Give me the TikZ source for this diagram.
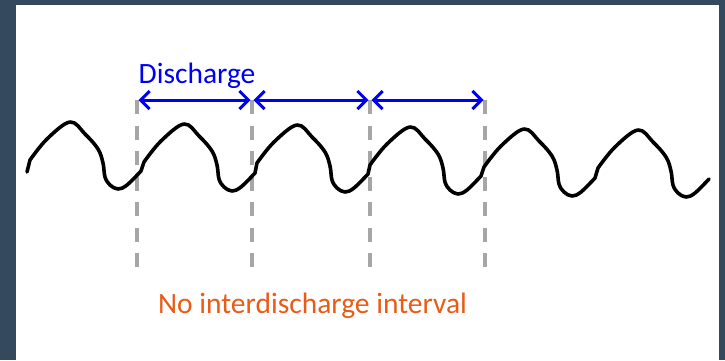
\documentclass[tikz,border=0pt]{standalone}
\usepackage{fontspec}
\setmainfont{Carlito}
\usetikzlibrary{arrows.meta}
\definecolor{slate}{RGB}{52,73,94}
\definecolor{markgray}{RGB}{166,166,166}
\definecolor{dblue}{RGB}{0,0,240}
\definecolor{dorange}{RGB}{232,92,24}
\begin{document}
\begin{tikzpicture}[x=1pt,y=-1pt,
  wavepath/.style={line width=3.6pt,line join=round,line cap=round},
  markline/.style={draw=markgray,line width=3.3pt,dash pattern=on 14pt off 11.5pt},
  dischargearrow/.style={draw=dblue,line width=3pt,
    {Straight Barb[length=9pt,width=18pt]}-{Straight Barb[length=9pt,width=18pt]},
    shorten <=1.5pt,shorten >=1.5pt},
  lbl/.style={font=\fontsize{29.5}{35}\selectfont,inner sep=0pt,anchor=base}]
\fill[slate] (0,0) rectangle (725,360);
\fill[white] (16,5) rectangle (719,360);
% discharge markers
\foreach \n/\x in {1/137,2/252,3/370,4/485} {
  \coordinate (t\n) at (\x,100);
  \coordinate (b\n) at (\x,268);
  \draw[markline] (t\n) -- (b\n);
}
% signal
\draw[wavepath] (27,172)
  \foreach \px/\py in {70/122,184/124,297/125,410/127,524/129,638/130} {
    -- plot[smooth,tension=0.6] coordinates {(\px-40,\py+38) (\px-23,\py+17)
      (\px,\py) (\px+15,\py+12) (\px+28,\py+27) (\px+33,\py+41) (\px+35,\py+55)
      (\px+40,\py+63) (\px+48,\py+67) (\px+57,\py+63) (\px+71,\py+49)}
  };
\draw[dischargearrow] (t1) -- (t2);
\draw[dischargearrow] (t2) -- (t3);
\draw[dischargearrow] (t3) -- (t4);
\node[lbl,text=dblue] (dis) at (197,83) {Discharge};
\node[lbl,text=dorange] (noint) at (312.5,313) {No interdischarge interval};
\end{tikzpicture}
\end{document}
